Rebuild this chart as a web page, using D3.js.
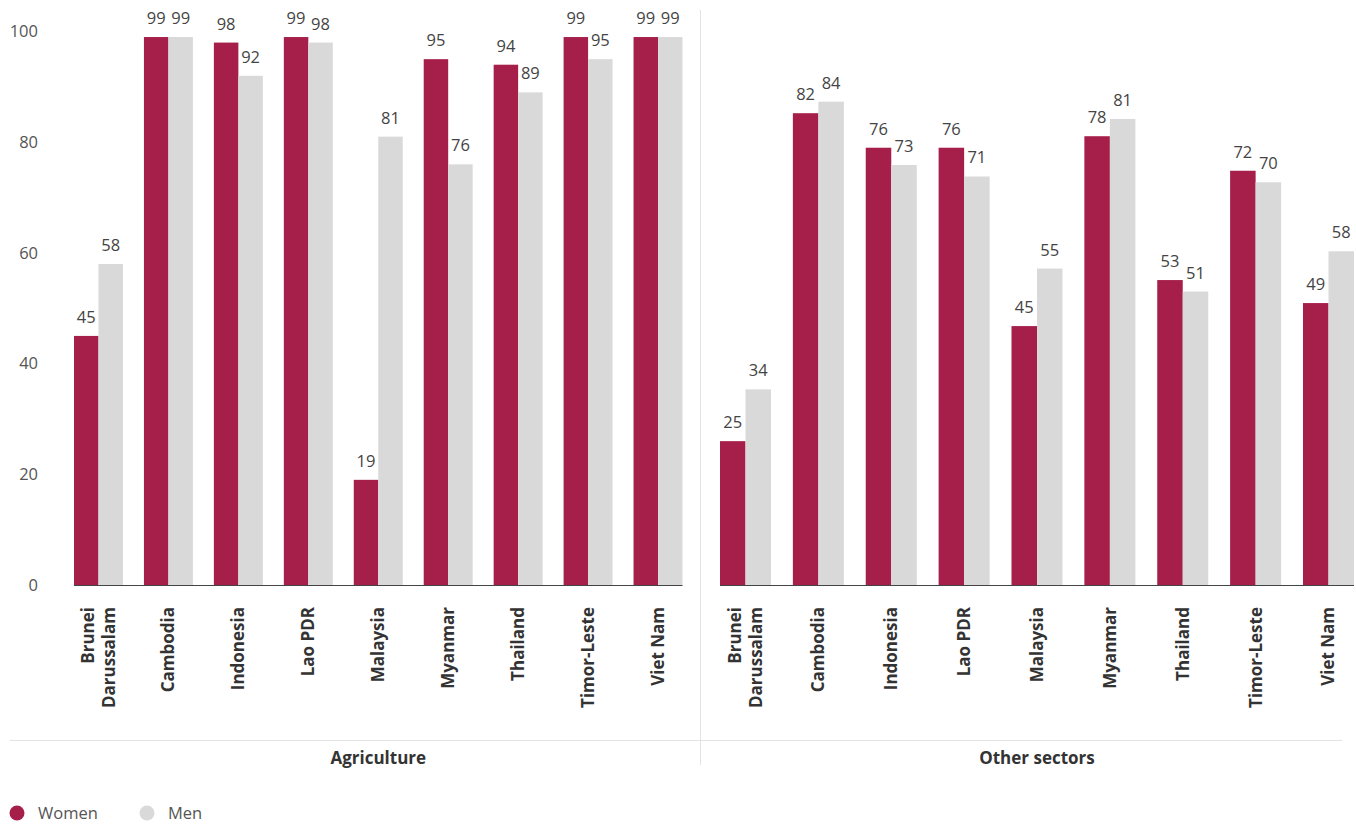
<!DOCTYPE html>
<html>
<head>
<meta charset="utf-8">
<script src="https://cdn.jsdelivr.net/npm/d3@7"></script>
<style>
  html, body { margin: 0; padding: 0; background: #fff; }
  svg { display: block; font-family: "Open Sans", "Lato", sans-serif; }
</style>
</head>
<body>
<svg id="chart" width="1356" height="824"></svg>
<script>
// ---- data ----
const countries = ["Brunei Darussalam", "Cambodia", "Indonesia", "Lao PDR", "Malaysia", "Myanmar", "Thailand", "Timor-Leste", "Viet Nam"];
const sectors = ["Agriculture", "Other sectors"];
const series = ["Women", "Men"];
const agricultureWomen = [45, 99, 98, 99, 19, 95, 94, 99, 99];
const agricultureMen   = [58, 99, 92, 98, 81, 76, 89, 95, 99];
const otherWomen = [25, 82, 76, 76, 45, 78, 53, 72, 49];
const otherMen   = [34, 84, 73, 71, 55, 81, 51, 70, 58];
const yTicks = [0, 20, 40, 60, 80, 100];
const colors = { Women: "#A51F4A", Men: "#D9D9D9" };

const svg = d3.select("#chart");
const y0 = 585, yTop = 31.5;

const panels = [
  { name: sectors[0], women: agricultureWomen, men: agricultureMen, x0: 74, x1: 682.5, yMax: 100, axis: true },
  { name: sectors[1], women: otherWomen, men: otherMen, x0: 720, x1: 1354, yMax: 96.2, axis: false }
];

// separators
svg.append("line").attr("x1", 700.5).attr("x2", 700.5).attr("y1", 10).attr("y2", 765)
  .attr("stroke", "#e3e3e3").attr("stroke-width", 1);
svg.append("line").attr("x1", 10).attr("x2", 1342).attr("y1", 740.5).attr("y2", 740.5)
  .attr("stroke", "#e3e3e3").attr("stroke-width", 1.2);

panels.forEach(p => {
  const g = svg.append("g");
  const x = d3.scaleBand().domain(countries).range([p.x0, p.x1]).paddingInner(0.3).paddingOuter(0);
  const xs = d3.scaleBand().domain(series).range([0, x.bandwidth()]);
  const y = d3.scaleLinear().domain([0, p.yMax]).range([y0, yTop]);

  const rows = countries.map((c, i) => ({ c, vals: [{ s: "Women", v: p.women[i] }, { s: "Men", v: p.men[i] }] }));

  const grp = g.selectAll("g.grp").data(rows).join("g").attr("transform", d => `translate(${x(d.c)},0)`);
  grp.selectAll("rect").data(d => d.vals).join("rect")
    .attr("x", d => xs(d.s)).attr("width", xs.bandwidth())
    .attr("y", d => y(d.v)).attr("height", d => y(0) - y(d.v))
    .attr("fill", d => colors[d.s]);
  grp.selectAll("text.val").data(d => d.vals).join("text").attr("class", "val")
    .attr("x", d => xs(d.s) + xs.bandwidth() / 2)
    .attr("y", d => y(d.v) - 13)
    .attr("text-anchor", "middle")
    .attr("font-size", 16.5).attr("fill", "#444")
    .text(d => d.v);

  // baseline
  g.append("line").attr("x1", p.x0).attr("x2", p.x1).attr("y1", y0 + 0.5).attr("y2", y0 + 0.5)
    .attr("stroke", "#444").attr("stroke-width", 1);

  // category labels (rotated)
  const lab = g.selectAll("text.cat").data(countries).join("text").attr("class", "cat")
    .attr("transform", d => `translate(${x(d) + x.bandwidth() / 2},607) rotate(-90)`)
    .attr("text-anchor", "end").attr("font-size", 17).attr("font-weight", 700).attr("fill", "#333");
  lab.each(function(d) {
    const words = d === "Brunei Darussalam" ? ["Brunei", "Darussalam"] : [d];
    const t = d3.select(this);
    const n = words.length;
    words.forEach((w, i) => {
      t.append("tspan").attr("x", 0).attr("y", (i - (n - 1) / 2) * 21 + 6).text(w);
    });
  });

  // y axis
  if (p.axis) {
    svg.append("g").selectAll("text").data(yTicks).join("text")
      .attr("x", 38).attr("y", d => y(d)).attr("dy", "0.35em")
      .attr("text-anchor", "end").attr("font-size", 16.5).attr("fill", "#555")
      .text(d => d);
  }

  // facet label
  svg.append("text").attr("x", (p.x0 + p.x1) / 2).attr("y", 764)
    .attr("text-anchor", "middle").attr("font-size", 17).attr("font-weight", 700).attr("fill", "#333")
    .text(p.name);
});

// legend
const leg = svg.append("g").selectAll("g").data(series).join("g")
  .attr("transform", (d, i) => `translate(${17 + i * 130},813)`);
leg.append("circle").attr("r", 7.5).attr("fill", d => colors[d]);
leg.append("text").attr("x", 21).attr("dy", "0.35em").attr("font-size", 16.5).attr("fill", "#555").text(d => d);
</script>
</body>
</html>
